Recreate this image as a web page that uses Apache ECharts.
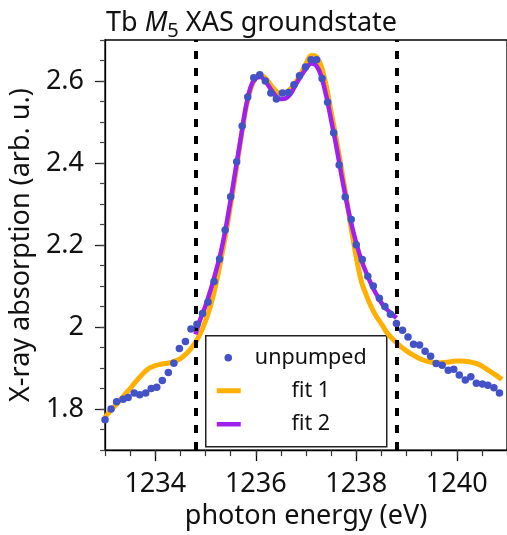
<!DOCTYPE html>
<html><head><meta charset="utf-8">
<script src="https://cdn.jsdelivr.net/npm/echarts@6/dist/echarts.min.js"></script>
<style>html,body{margin:0;padding:0;background:#fff}#c{width:507px;height:535px}</style>
</head><body><div id="c"></div>
<script>
const energy = [1233.00,1233.12,1233.23,1233.36,1233.46,1233.58,1233.69,1233.81,1233.92,1234.03,1234.14,1234.26,1234.37,1234.48,1234.60,1234.71,1234.83,1234.94,1235.05,1235.17,1235.28,1235.39,1235.50,1235.62,1235.73,1235.84,1235.96,1236.08,1236.19,1236.30,1236.41,1236.53,1236.65,1236.76,1236.87,1236.99,1237.10,1237.21,1237.32,1237.43,1237.55,1237.66,1237.78,1237.90,1238.00,1238.12,1238.23,1238.34,1238.46,1238.57,1238.68,1238.80,1238.92,1239.03,1239.14,1239.26,1239.37,1239.48,1239.59,1239.71,1239.83,1239.94,1240.05,1240.17,1240.28,1240.39,1240.51,1240.62,1240.74,1240.85];
const unpumped = [1.774,1.800,1.818,1.824,1.828,1.839,1.835,1.839,1.850,1.853,1.870,1.889,1.912,1.948,1.965,1.995,2.007,2.033,2.061,2.111,2.166,2.237,2.318,2.403,2.490,2.561,2.608,2.615,2.600,2.571,2.556,2.571,2.572,2.591,2.613,2.634,2.652,2.652,2.606,2.548,2.474,2.395,2.317,2.262,2.201,2.165,2.124,2.100,2.070,2.050,2.031,2.009,1.992,1.976,1.958,1.956,1.941,1.929,1.911,1.907,1.895,1.897,1.883,1.871,1.879,1.863,1.861,1.858,1.852,1.839];

const fit1Energy = [1233.0,1233.1,1233.2,1233.3,1233.4,1233.5,1233.6,1233.7,1233.8,1233.9,1234.0,1234.1,1234.2,1234.3,1234.4,1234.5,1234.6,1234.7,1234.8,1234.9,1235.0,1235.1,1235.2,1235.3,1235.4,1235.5,1235.6,1235.7,1235.8,1235.9,1236.0,1236.1,1236.2,1236.3,1236.4,1236.5,1236.6,1236.7,1236.8,1236.9,1237.0,1237.1,1237.2,1237.3,1237.4,1237.5,1237.6,1237.7,1237.8,1237.9,1238.0,1238.1,1238.2,1238.3,1238.4,1238.5,1238.6,1238.7,1238.8,1238.9,1239.0,1239.1,1239.2,1239.3,1239.4,1239.5,1239.6,1239.7,1239.8,1239.9,1240.0,1240.1,1240.2,1240.3,1240.4,1240.5,1240.6,1240.7,1240.8,1240.9];
const fit1 = [1.780,1.795,1.808,1.822,1.836,1.850,1.865,1.879,1.892,1.901,1.906,1.909,1.911,1.913,1.917,1.923,1.933,1.946,1.963,1.985,2.015,2.052,2.100,2.160,2.225,2.298,2.375,2.455,2.530,2.582,2.607,2.614,2.606,2.590,2.576,2.569,2.572,2.582,2.598,2.618,2.642,2.662,2.660,2.637,2.590,2.525,2.460,2.390,2.318,2.240,2.170,2.112,2.078,2.049,2.026,2.008,1.988,1.974,1.962,1.951,1.942,1.934,1.927,1.921,1.917,1.914,1.913,1.913,1.914,1.916,1.917,1.917,1.916,1.914,1.911,1.905,1.897,1.889,1.881,1.872];

const fit2Energy = [1234.8,1234.9,1235.0,1235.1,1235.2,1235.3,1235.4,1235.5,1235.6,1235.7,1235.8,1235.9,1236.0,1236.1,1236.2,1236.3,1236.4,1236.5,1236.6,1236.7,1236.8,1236.9,1237.0,1237.1,1237.2,1237.3,1237.4,1237.5,1237.6,1237.7,1237.8,1237.9,1238.0,1238.1,1238.2,1238.3,1238.4,1238.5,1238.6,1238.7,1238.8];
const fit2 = [1.982,2.020,2.052,2.090,2.133,2.180,2.240,2.310,2.385,2.460,2.535,2.586,2.607,2.610,2.598,2.580,2.563,2.556,2.558,2.570,2.592,2.612,2.630,2.643,2.638,2.613,2.565,2.505,2.443,2.374,2.310,2.253,2.205,2.164,2.132,2.104,2.080,2.059,2.044,2.033,2.022];

const markerEnergies = [1234.8, 1238.8];
const xMajorTicks = [1234, 1236, 1238, 1240];
const xMinorTicks = [1233,1233.5,1234,1234.5,1235,1235.5,1236,1236.5,1237,1237.5,1238,1238.5,1239,1239.5,1240,1240.5,1241];
const yMajorTicks = [1.8, 2.0, 2.2, 2.4, 2.6];
const yMinorTicks = [1.7,1.75,1.8,1.85,1.9,1.95,2.0,2.05,2.1,2.15,2.2,2.25,2.3,2.35,2.4,2.45,2.5,2.55,2.6,2.65,2.7];
const legendNames = ['unpumped', 'fit 1', 'fit 2'];

const FONT = 'Noto Sans';
const BLUE = '#4353c7', ORANGE = '#ffb000', PURPLE = '#a020f0';
const chart = echarts.init(document.getElementById('c'), null, {renderer: 'canvas'});
const XMIN = 1233, XMAX = 1241, YMIN = 1.7, YMAX = 2.7;
const fmtY = v => String(Math.round(v * 100) / 100);
const fmtX = v => String(Math.round(v));

chart.setOption({
  animation: false,
  backgroundColor: '#fff',
  textStyle: {fontFamily: FONT},
  title: {
    left: 101, top: 0,
    text: '{a|Tb }{i|M}{s|5}{a| XAS groundstate}',
    textStyle: {
      fontWeight: 'normal',
      rich: {
        a: {fontFamily: FONT, fontSize: 27, fontWeight: 'normal', color: '#111', lineHeight: 36},
        i: {fontFamily: FONT, fontSize: 27, fontWeight: 'normal', fontStyle: 'italic', color: '#111', lineHeight: 36},
        s: {fontFamily: FONT, fontSize: 20, fontWeight: 'normal', color: '#111', lineHeight: 22, verticalAlign: 'bottom'}
      }
    }
  },
  grid: {left: 103, top: 40, width: 413, height: 411, show: true, borderColor: '#000', borderWidth: 1.3, backgroundColor: 'transparent'},
  xAxis: [{
    type: 'value', min: XMIN, max: XMAX,
    name: 'photon energy (eV)', nameLocation: 'middle', nameGap: 50,
    nameTextStyle: {fontFamily: FONT, fontSize: 27, color: '#111'},
    axisLine: {show: true, lineStyle: {color: '#000', width: 1.3}},
    axisTick: {show: true, customValues: xMajorTicks, length: 11, lineStyle: {color: '#000', width: 1.3}},
    axisLabel: {customValues: xMajorTicks, formatter: fmtX, fontFamily: FONT, fontSize: 27, color: '#111', margin: 21},
    splitLine: {show: false}
  }, {
    type: 'value', min: XMIN, max: XMAX, position: 'bottom',
    axisLine: {show: false},
    axisTick: {show: true, customValues: xMinorTicks, length: 6, lineStyle: {color: '#333', width: 1.2}},
    axisLabel: {show: false}, splitLine: {show: false}
  }],
  yAxis: [{
    type: 'value', min: YMIN, max: YMAX,
    name: 'X-ray absorption (arb. u.)', nameLocation: 'middle', nameGap: 62, nameRotate: 90,
    nameTextStyle: {fontFamily: FONT, fontSize: 27, color: '#111'},
    axisLine: {show: true, lineStyle: {color: '#000', width: 1.3}},
    axisTick: {show: true, customValues: yMajorTicks, length: 10, lineStyle: {color: '#222', width: 1.3}},
    axisLabel: {customValues: yMajorTicks, formatter: fmtY, fontFamily: FONT, fontSize: 27, color: '#111', margin: 21},
    splitLine: {show: false}
  }, {
    type: 'value', min: YMIN, max: YMAX, position: 'left',
    axisLine: {show: false},
    axisTick: {show: true, customValues: yMinorTicks, length: 5, lineStyle: {color: '#444', width: 1.2}},
    axisLabel: {show: false}, splitLine: {show: false}
  }],
  series: [{
    name: legendNames[1], type: 'line', xAxisIndex: 0, yAxisIndex: 0,
    data: fit1Energy.map((e, i) => [e, fit1[i]]),
    smooth: 0.3, showSymbol: false, symbol: 'none', z: 2,
    lineStyle: {color: ORANGE, width: 5}
  }, {
    name: legendNames[2], type: 'line', xAxisIndex: 0, yAxisIndex: 0,
    data: fit2Energy.map((e, i) => [e, fit2[i]]),
    smooth: 0.3, showSymbol: false, symbol: 'none', z: 3,
    lineStyle: {color: PURPLE, width: 4.5}
  }, {
    name: 'markers', type: 'line', xAxisIndex: 0, yAxisIndex: 0, data: [], z: 4,
    markLine: {
      silent: true, symbol: ['none', 'none'], label: {show: false},
      lineStyle: {color: '#000', width: 4, type: [8, 9]},
      data: markerEnergies.map(e => ({xAxis: e}))
    }
  }, {
    name: legendNames[0], type: 'scatter', xAxisIndex: 0, yAxisIndex: 0,
    data: energy.map((e, i) => [e, unpumped[i]]),
    symbolSize: 7.5, z: 5,
    itemStyle: {color: BLUE, opacity: 1}
  }],
  graphic: [{
    type: 'group', left: 205, top: 335, z: 100,
    children: [
      {type: 'rect', shape: {x: 0, y: 0, width: 181, height: 111}, style: {fill: '#fff', stroke: '#222', lineWidth: 1.5}},
      {type: 'circle', shape: {cx: 22.5, cy: 22, r: 3.8}, style: {fill: BLUE}},
      {type: 'line', shape: {x1: 11, y1: 55, x2: 35, y2: 55}, style: {stroke: ORANGE, lineWidth: 5}},
      {type: 'line', shape: {x1: 11, y1: 88.5, x2: 35, y2: 88.5}, style: {stroke: PURPLE, lineWidth: 4.5}},
      {type: 'text', x: 105, y: 22, style: {text: legendNames[0], font: '21.5px "Noto Sans"', fill: '#111', align: 'center', verticalAlign: 'middle'}},
      {type: 'text', x: 105, y: 55, style: {text: legendNames[1], font: '21.5px "Noto Sans"', fill: '#111', align: 'center', verticalAlign: 'middle'}},
      {type: 'text', x: 105, y: 88.5, style: {text: legendNames[2], font: '21.5px "Noto Sans"', fill: '#111', align: 'center', verticalAlign: 'middle'}}
    ]
  }]
});
</script>
</body></html>
